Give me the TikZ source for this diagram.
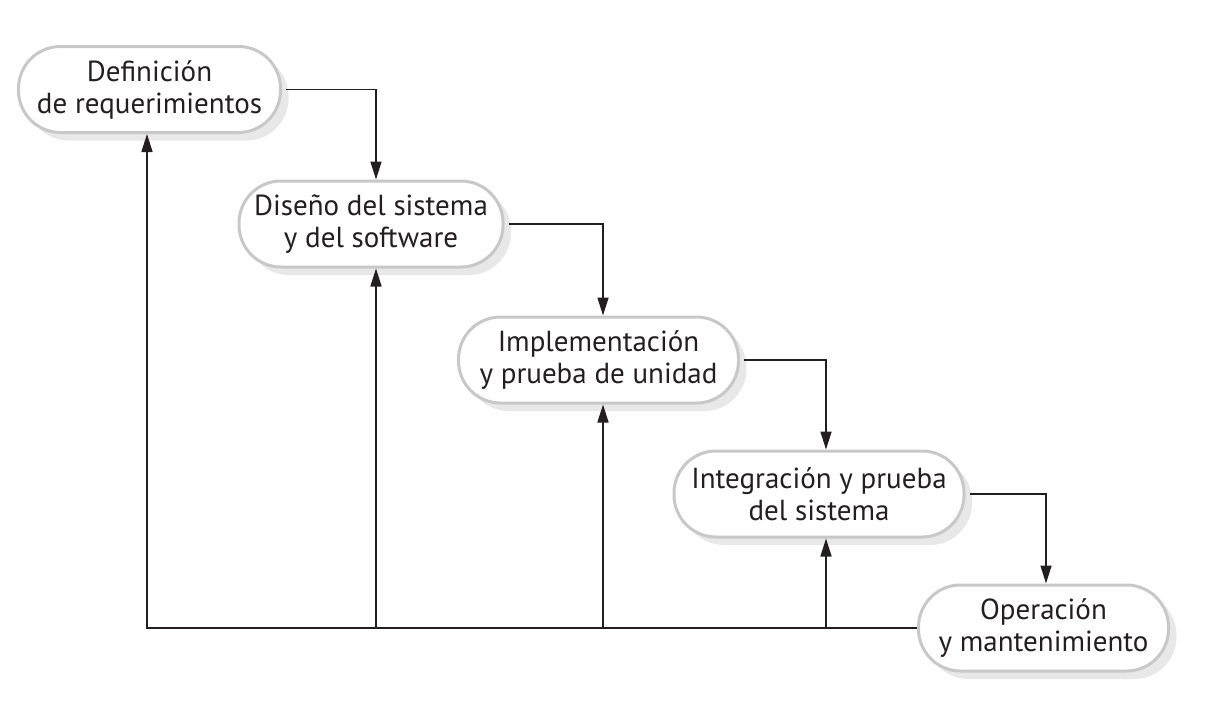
\documentclass[tikz,border=0pt]{standalone}
\usepackage{fontspec}
\setmainfont{PT Sans}
\usetikzlibrary{arrows.meta,shadows}
\definecolor{bordegris}{RGB}{200,200,200}
\definecolor{sombragris}{RGB}{232,232,232}
\definecolor{tinta}{RGB}{35,31,32}

\begin{document}
\begin{tikzpicture}[x=0.5pt,y=-0.5pt,
    fase/.style={draw=bordegris,line width=1.5pt,fill=white,rounded corners=21pt,
      minimum width=#1,minimum height=43pt,align=center,text=tinta,
      font=\fontsize{14.5}{16}\selectfont,
      drop shadow={shadow xshift=4pt,shadow yshift=-4pt,fill=sombragris,opacity=1}},
    flecha/.style={-{Triangle[length=9pt,width=5.5pt]},line width=0.8pt,draw=tinta}]
  \useasboundingbox (0,0) rectangle (1208,723);
  \node[fase=131pt] (def) at (149.5,89.5) {Definición\\de requerimientos};
  \node[fase=132pt] (dis) at (371,224) {Diseño del sistema\\y del software};
  \node[fase=140pt] (imp) at (598.5,360) {Implementación\\y prueba de unidad};
  \node[fase=145pt] (int) at (819,494) {Integración y prueba\\del sistema};
  \node[fase=125pt] (ope) at (1043.5,628) {Operación\\y mantenimiento};
  \foreach \a/\b/\d in {def/dis/2.5pt, imp/int/3.5pt, dis/imp/2.25pt, int/ope/1.25pt}
    \draw[flecha] ([xshift=2pt]\a.east) -| ([xshift=\d]\b.north);
  \draw[flecha] (ope.west) -| ([xshift=-1.25pt]def.south);
  \foreach \b/\d in {dis/2.5pt, imp/2.25pt, int/3.5pt}
    \draw[flecha] ([xshift=\d]\b.south |- ope.west) -- ([xshift=\d]\b.south);
\end{tikzpicture}
\end{document}
